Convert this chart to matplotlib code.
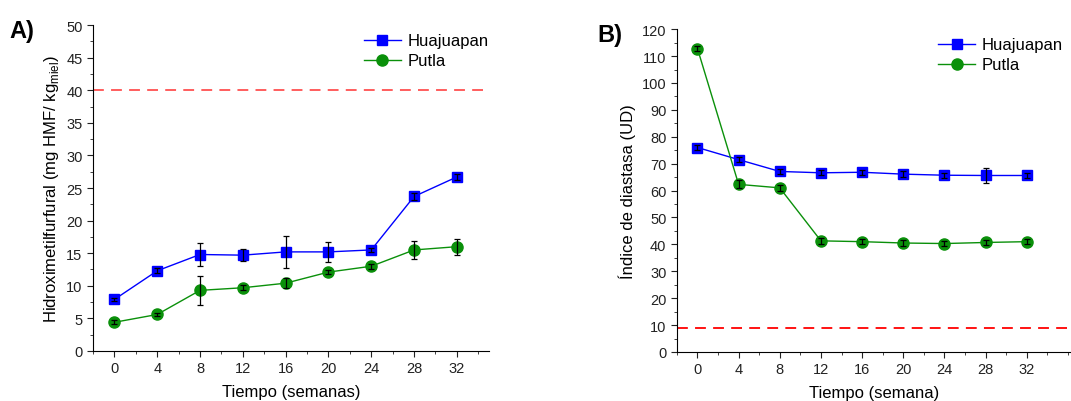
import numpy as np
import matplotlib
matplotlib.use("Agg")
import matplotlib.pyplot as plt
from matplotlib.ticker import MultipleLocator

plt.rcParams['font.family'] = ['Liberation Sans', 'DejaVu Sans']

# Weeks of storage
semanas = [0, 4, 8, 12, 16, 20, 24, 28, 32]

# A) HMF content
hmf_huaj = [7.9, 12.3, 14.8, 14.7, 15.2, 15.2, 15.5, 23.7, 26.7]
hmf_huaj_err = [0.3, 0.4, 1.8, 0.9, 2.4, 1.5, 0.3, 0.5, 0.4]
hmf_putla = [4.4, 5.6, 9.3, 9.7, 10.4, 12.1, 13.0, 15.5, 16.0]
hmf_putla_err = [0.3, 0.3, 2.2, 0.4, 0.8, 0.3, 0.4, 1.4, 1.2]
hmf_limite = 40

# B) Diastase index
dia_huaj = [76.0, 71.5, 67.1, 66.6, 66.8, 66.1, 65.7, 65.6, 65.6]
dia_huaj_err = [1.0, 1.0, 1.0, 1.0, 1.0, 1.0, 1.0, 2.8, 1.0]
dia_putla = [112.8, 62.3, 61.0, 41.3, 41.0, 40.5, 40.3, 40.7, 41.0]
dia_putla_err = [1.0, 1.5, 1.0, 1.0, 1.0, 1.0, 1.0, 1.0, 1.0]
dia_limite = 9

azul = '#0000ff'
verde = '#0a900a'

fig = plt.figure(figsize=(10.71, 4.02), dpi=100)
axA = fig.add_axes([0.0868, 0.1244, 0.3698, 0.8109])
axB = fig.add_axes([0.632, 0.122, 0.368, 0.803])


def draw(ax, yh, eh, yp, ep, limite, lim_color, leg_anchor):
    ax.axhline(limite, color=lim_color, linestyle=(0, (6, 4)), linewidth=1.3, zorder=1)
    ax.plot(semanas, yh, color=azul, marker='s', markersize=7.5, linewidth=1, label='Huajuapan', zorder=3)
    ax.plot(semanas, yp, color=verde, marker='o', markersize=8, linewidth=1, label='Putla', zorder=3)
    ax.errorbar(semanas, yh, yerr=eh, fmt='none', ecolor='black', elinewidth=0.9, capsize=2.5, capthick=0.9, zorder=4)
    ax.errorbar(semanas, yp, yerr=ep, fmt='none', ecolor='black', elinewidth=0.9, capsize=2.5, capthick=0.9, zorder=4)
    for s in ['top', 'right']:
        ax.spines[s].set_visible(False)
    ax.set_xticks(semanas)
    ax.xaxis.set_minor_locator(MultipleLocator(2))
    ax.tick_params(which='both', direction='out', labelsize=10.5, colors='#222222')
    ax.tick_params(which='major', length=4)
    ax.tick_params(which='minor', length=2.5)
    ax.legend(loc='upper right', bbox_to_anchor=leg_anchor, frameon=False, fontsize=12,
              handlelength=2.2, handletextpad=0.4, labelspacing=0.3, borderaxespad=0.1)


draw(axA, hmf_huaj, hmf_huaj_err, hmf_putla, hmf_putla_err, hmf_limite, '#ff5050', (1.02, 1.0))
axA.set_xlim(-2, 35)
axA.set_ylim(0, 50)
axA.yaxis.set_major_locator(MultipleLocator(5))
axA.yaxis.set_minor_locator(MultipleLocator(2.5))
axA.set_xlabel('Tiempo (semanas)', fontsize=12, labelpad=6)
axA.set_ylabel('Hidroximetilfurfural (mg HMF/ kg$_{\\mathregular{miel}}$)', fontsize=12)

draw(axB, dia_huaj, dia_huaj_err, dia_putla, dia_putla_err, dia_limite, '#ff0000', (1.0, 1.0))
axB.set_xlim(-2, 36.3)
axB.set_ylim(0, 120)
axB.yaxis.set_major_locator(MultipleLocator(10))
axB.yaxis.set_minor_locator(MultipleLocator(5))
axB.set_xlabel('Tiempo (semana)', fontsize=12, labelpad=6)
axB.set_ylabel('Índice de diastasa (UD)', fontsize=12)

fig.text(0.009, 0.905, 'A)', fontsize=17, fontweight='bold')
fig.text(0.558, 0.895, 'B)', fontsize=17, fontweight='bold')

fig.savefig('out.png', dpi=100)
